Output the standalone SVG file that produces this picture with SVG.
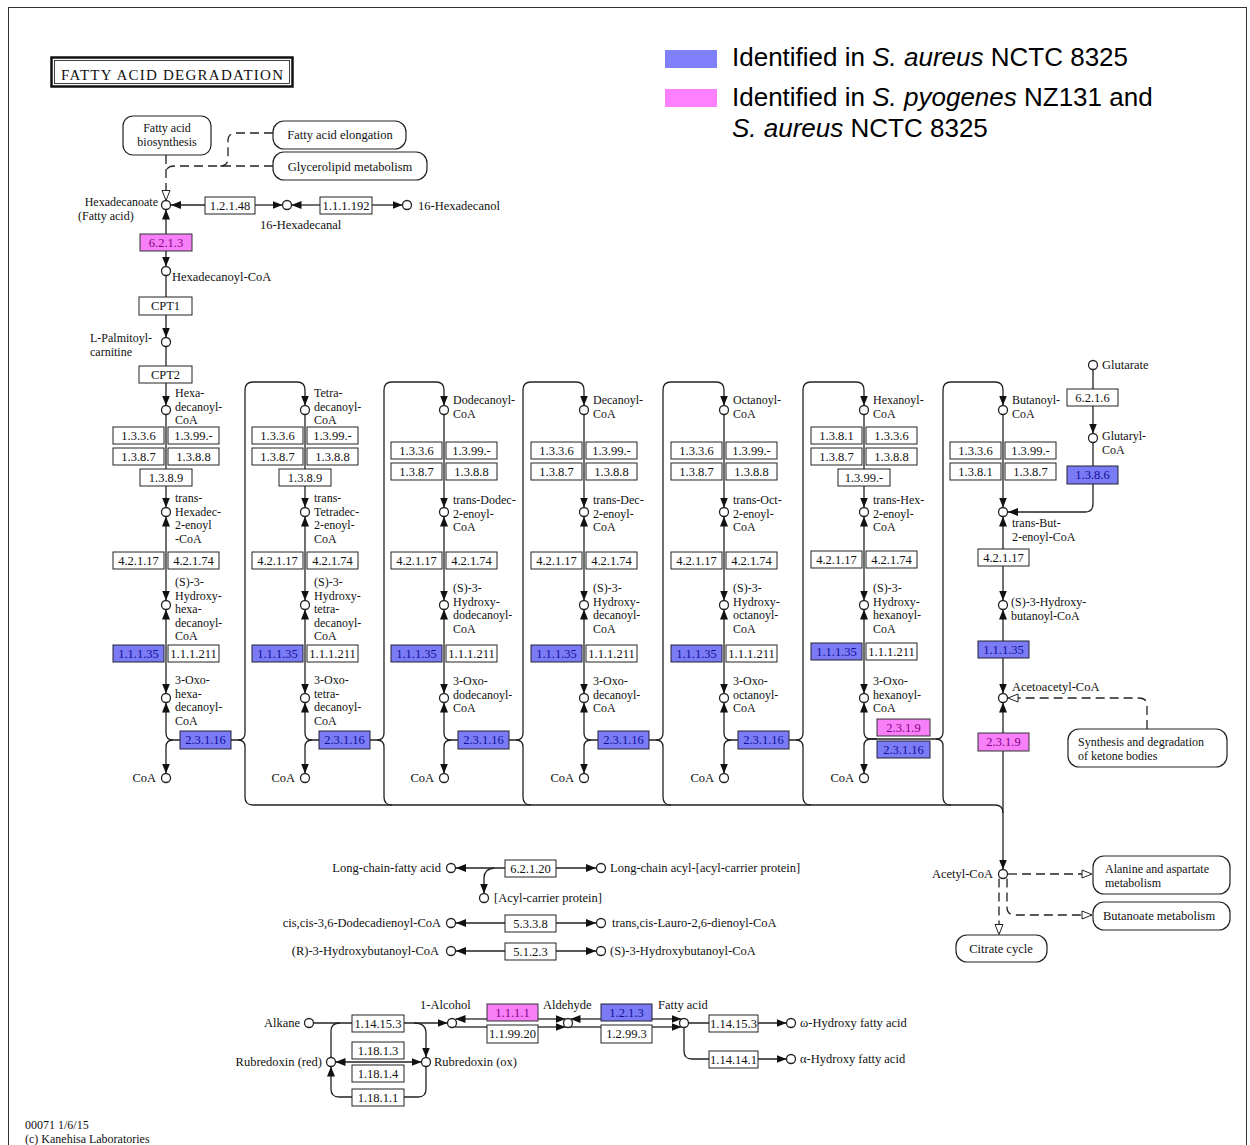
<svg xmlns="http://www.w3.org/2000/svg" width="1250" height="1145" viewBox="0 0 1250 1145">
<defs>
<style>
.ln{fill:none;stroke:#222;stroke-width:1.3}
.ds{fill:none;stroke:#222;stroke-width:1.3;stroke-dasharray:9 5}
.cp{fill:#fff;stroke:#222;stroke-width:1.3}
.ez{fill:#fff;stroke:#222;stroke-width:1}
.eb{fill:#7b7bf5;stroke:#223;stroke-width:1}
.ep{fill:#f77ff7;stroke:#333;stroke-width:1}
.mp{fill:#fff;stroke:#222;stroke-width:1.2}
text{font-family:"Liberation Serif","Times New Roman",serif;font-size:12.5px;fill:#111}
.s{font-size:12px}
.et{font-size:12.5px;text-anchor:middle}
.tb{fill:#10109a}
.tp{fill:#8a008a}
.r{text-anchor:end}
.c{text-anchor:middle}
.ttl{font-size:15px}
.ft{font-size:12px}
.lg{font-family:"Liberation Sans",Arial,sans-serif;font-size:26px;fill:#000}
</style>
<marker id="a" viewBox="0 0 10 8" refX="10" refY="4" markerWidth="10" markerHeight="8" markerUnits="userSpaceOnUse" orient="auto-start-reverse"><path d="M0,0L10,4L0,8z" fill="#111"/></marker>
<marker id="h" viewBox="-1 -1 12 10" refX="10" refY="4" markerWidth="12" markerHeight="10" markerUnits="userSpaceOnUse" orient="auto"><path d="M0,0L10,4L0,8z" fill="#fff" stroke="#222" stroke-width="1" stroke-dasharray="none"/></marker>
</defs>
<rect x="0" y="0" width="1250" height="1145" fill="#fff"/>
<rect x="8.5" y="7.5" width="1238" height="1150" fill="none" stroke="#333" stroke-width="1"/>

<g id="title">
<rect x="51.5" y="57.5" width="241" height="29" fill="#fff" stroke="#111" stroke-width="2.5"/>
<rect x="54.5" y="60.5" width="235" height="23" fill="none" stroke="#111" stroke-width="0.8"/>
<text class="ttl" x="61" y="80" textLength="222" lengthAdjust="spacing">FATTY ACID DEGRADATION</text>
</g>

<g id="legend">
<rect x="665" y="50" width="52" height="18" fill="#8080fb"/>
<rect x="665" y="89" width="52" height="18" fill="#ff80ff"/>
<text class="lg" x="732" y="66">Identified in <tspan font-style="italic">S. aureus</tspan> NCTC 8325</text>
<text class="lg" x="732" y="106">Identified in <tspan font-style="italic">S. pyogenes</tspan> NZ131 and</text>
<text class="lg" x="732" y="137"><tspan font-style="italic">S. aureus</tspan> NCTC 8325</text>
</g>

<g id="connectors">
<path class="ds" d="M166,155V200.5" marker-end="url(#h)"/>
<path class="ds" d="M273,166H174Q166,166 166,174"/>
<path class="ds" d="M273,133H236Q228,133 228,141V158Q228,166 220,166"/>
<path class="ln" d="M205,205H171" marker-end="url(#a)"/>
<path class="ln" d="M255,205H282.5" marker-end="url(#a)"/>
<path class="ln" d="M320,205H291.5" marker-end="url(#a)"/>
<path class="ln" d="M372,205H402.5" marker-end="url(#a)"/>
<path class="ln" d="M166,209.5V266.5" marker-start="url(#a)" marker-end="url(#a)"/>
<path class="ln" d="M166,275.5V337.5" marker-end="url(#a)"/>
<path class="ln" d="M166,346.5V405.5" marker-end="url(#a)"/>

<path class="ln" d="M166,414.5V507.5" marker-end="url(#a)"/>
<path class="ln" d="M166,516.5V600.5" marker-start="url(#a)" marker-end="url(#a)"/>
<path class="ln" d="M166,609.5V693.5" marker-start="url(#a)" marker-end="url(#a)"/>
<path class="ln" d="M180,740H173Q166,740 166,733V702.5" marker-end="url(#a)"/>
<path class="ln" d="M173,740Q166,740 166,747V773.5" marker-end="url(#a)"/>
<path class="ln" d="M231,740H238Q245,740 245,733V390Q245,382 253,382H297Q305,382 305,390V405.5" marker-end="url(#a)"/>
<path class="ln" d="M238,740Q245,740 245,747V797Q245,805 253,805"/>

<path class="ln" d="M305,414.5V507.5" marker-end="url(#a)"/>
<path class="ln" d="M305,516.5V600.5" marker-start="url(#a)" marker-end="url(#a)"/>
<path class="ln" d="M305,609.5V693.5" marker-start="url(#a)" marker-end="url(#a)"/>
<path class="ln" d="M319,740H312Q305,740 305,733V702.5" marker-end="url(#a)"/>
<path class="ln" d="M312,740Q305,740 305,747V773.5" marker-end="url(#a)"/>
<path class="ln" d="M370,740H377Q384,740 384,733V390Q384,382 392,382H436Q444,382 444,390V405.5" marker-end="url(#a)"/>
<path class="ln" d="M377,740Q384,740 384,747V797Q384,805 392,805"/>

<path class="ln" d="M444,414.5V507.5" marker-end="url(#a)"/>
<path class="ln" d="M444,516.5V600.5" marker-start="url(#a)" marker-end="url(#a)"/>
<path class="ln" d="M444,609.5V693.5" marker-start="url(#a)" marker-end="url(#a)"/>
<path class="ln" d="M458,740H451Q444,740 444,733V702.5" marker-end="url(#a)"/>
<path class="ln" d="M451,740Q444,740 444,747V773.5" marker-end="url(#a)"/>
<path class="ln" d="M509,740H516Q523,740 523,733V390Q523,382 531,382H576Q584,382 584,390V405.5" marker-end="url(#a)"/>
<path class="ln" d="M516,740Q523,740 523,747V797Q523,805 531,805"/>

<path class="ln" d="M584,414.5V507.5" marker-end="url(#a)"/>
<path class="ln" d="M584,516.5V600.5" marker-start="url(#a)" marker-end="url(#a)"/>
<path class="ln" d="M584,609.5V693.5" marker-start="url(#a)" marker-end="url(#a)"/>
<path class="ln" d="M598,740H591Q584,740 584,733V702.5" marker-end="url(#a)"/>
<path class="ln" d="M591,740Q584,740 584,747V773.5" marker-end="url(#a)"/>
<path class="ln" d="M649,740H656Q663,740 663,733V390Q663,382 671,382H716Q724,382 724,390V405.5" marker-end="url(#a)"/>
<path class="ln" d="M656,740Q663,740 663,747V797Q663,805 671,805"/>

<path class="ln" d="M724,414.5V507.5" marker-end="url(#a)"/>
<path class="ln" d="M724,516.5V600.5" marker-start="url(#a)" marker-end="url(#a)"/>
<path class="ln" d="M724,609.5V693.5" marker-start="url(#a)" marker-end="url(#a)"/>
<path class="ln" d="M738,740H731Q724,740 724,733V702.5" marker-end="url(#a)"/>
<path class="ln" d="M731,740Q724,740 724,747V773.5" marker-end="url(#a)"/>
<path class="ln" d="M789,740H796Q803,740 803,733V390Q803,382 811,382H856Q864,382 864,390V405.5" marker-end="url(#a)"/>
<path class="ln" d="M796,740Q803,740 803,747V797Q803,805 811,805"/>

<path class="ln" d="M864,414.5V507.5" marker-end="url(#a)"/>
<path class="ln" d="M864,516.5V600.5" marker-start="url(#a)" marker-end="url(#a)"/>
<path class="ln" d="M864,609.5V693.5" marker-start="url(#a)" marker-end="url(#a)"/>
<path class="ln" d="M877,739H871Q864,739 864,732V702.5" marker-end="url(#a)"/>
<path class="ln" d="M871,739Q864,739 864,746V773.5" marker-end="url(#a)"/>
<path class="ln" d="M871,739H936"/>
<path class="ln" d="M936,739Q943,739 943,732V390Q943,382 951,382H995Q1003,382 1003,390V405.5" marker-end="url(#a)"/>
<path class="ln" d="M936,739Q943,739 943,746V797Q943,805 951,805"/>

<path class="ln" d="M253,805H995Q1003,805 1003,813"/>

<path class="ln" d="M1003,414.5V507.5" marker-end="url(#a)"/>
<path class="ln" d="M1093,369.5V433.5" marker-end="url(#a)"/>
<path class="ln" d="M1093,442.5V504Q1093,512 1085,512H1008" marker-end="url(#a)"/>
<path class="ln" d="M1003,516.5V600.5" marker-start="url(#a)" marker-end="url(#a)"/>
<path class="ln" d="M1003,609.5V693.5" marker-start="url(#a)" marker-end="url(#a)"/>
<path class="ln" d="M1003,702.5V869.5" marker-start="url(#a)" marker-end="url(#a)"/>
<path class="ds" d="M1147,729V706Q1147,698 1139,698H1008" marker-end="url(#h)"/>
<path class="ds" d="M1008,874H1092" marker-end="url(#h)"/>
<path class="ds" d="M1007,878.5V907Q1007,915 1015,915H1092" marker-end="url(#h)"/>
<path class="ds" d="M999,878.5V934.5" marker-end="url(#h)"/>

<path class="ln" d="M505,868H456" marker-end="url(#a)"/>
<path class="ln" d="M556,868H596" marker-end="url(#a)"/>
<path class="ln" d="M494,868Q484,869 484,878V893.5" marker-end="url(#a)"/>
<path class="ln" d="M505,923H456" marker-end="url(#a)"/>
<path class="ln" d="M556,923H596" marker-end="url(#a)"/>
<path class="ln" d="M505,951H456" marker-end="url(#a)"/>
<path class="ln" d="M556,951H596" marker-end="url(#a)"/>

<path class="ln" d="M313.5,1023H447.5" marker-end="url(#a)"/>
<path class="ln" d="M340,1023Q331,1023 331,1031V1057.5"/>
<path class="ln" d="M414,1023Q426,1023 426,1033V1057.5" marker-end="url(#a)"/>
<path class="ln" d="M335.5,1062H421.5" marker-start="url(#a)" marker-end="url(#a)"/>
<path class="ln" d="M426,1066.5V1089Q426,1097 418,1097H339Q331,1097 331,1089V1066.5" marker-end="url(#a)"/>
<path class="ln" d="M487,1019H455.5" marker-end="url(#a)"/>
<path class="ln" d="M538,1019H565.5" marker-end="url(#a)"/>
<path class="ln" d="M455,1027H487"/>
<path class="ln" d="M538,1027H565.5" marker-end="url(#a)"/>
<path class="ln" d="M601,1019H570.5" marker-end="url(#a)"/>
<path class="ln" d="M652,1019H681.5" marker-end="url(#a)"/>
<path class="ln" d="M570,1027H601"/>
<path class="ln" d="M652,1027H681.5" marker-end="url(#a)"/>
<path class="ln" d="M688.5,1023H786.5" marker-end="url(#a)"/>
<path class="ln" d="M684,1027.5V1051Q684,1059 692,1059H786.5" marker-end="url(#a)"/>
</g>

<g id="map-fa-biosynthesis"><rect class="mp" x="123" y="116" width="88" height="39" rx="10"/><text class="c s"><tspan x="167" y="132">Fatty acid</tspan><tspan x="167" y="145.5">biosynthesis</tspan></text></g>
<g id="map-fa-elongation"><rect class="mp" x="273" y="121" width="133" height="28" rx="11"/><text class="c" x="340" y="139">Fatty acid elongation</text></g>
<g id="map-glycerolipid"><rect class="mp" x="273" y="152" width="154" height="28" rx="11"/><text class="c" x="350" y="171">Glycerolipid metabolism</text></g>
<g id="map-ketone"><rect class="mp" x="1068" y="729" width="159" height="38" rx="11"/><text class="s"><tspan x="1078" y="746">Synthesis and degradation</tspan><tspan x="1078" y="759.5">of ketone bodies</tspan></text></g>
<g id="map-alanine"><rect class="mp" x="1093" y="856" width="137" height="38" rx="11"/><text class="s"><tspan x="1105" y="873">Alanine and aspartate</tspan><tspan x="1105" y="886.5">metabolism</tspan></text></g>
<g id="map-butanoate"><rect class="mp" x="1093" y="902" width="137" height="28" rx="11"/><text x="1103" y="920">Butanoate metabolism</text></g>
<g id="map-citrate"><rect class="mp" x="956" y="935" width="91" height="27" rx="11"/><text class="c" x="1001" y="953">Citrate cycle</text></g>

<g id="cpd-hexadecanoate"><circle class="cp" cx="166" cy="205" r="4.5"/><text class="s r" x="158" y="206">Hexadecanoate</text><text class="s" x="78" y="219.5">(Fatty acid)</text></g>
<g id="cpd-16-hexadecanal"><circle class="cp" cx="287" cy="205" r="4.5"/><text x="260" y="229">16-Hexadecanal</text></g>
<g id="cpd-16-hexadecanol"><circle class="cp" cx="407" cy="205" r="4.5"/><text x="418" y="210">16-Hexadecanol</text></g>
<g id="cpd-hexadecanoyl-coa"><circle class="cp" cx="166" cy="271" r="4.5"/><text x="172" y="281">Hexadecanoyl-CoA</text></g>
<g id="cpd-l-palmitoylcarnitine"><circle class="cp" cx="166" cy="342" r="4.5"/><text class="s"><tspan x="90" y="342">L-Palmitoyl-</tspan><tspan x="90" y="355.5">carnitine</tspan></text></g>
<g id="enz-1.2.1.48"><rect class="ez" x="205" y="197" width="50" height="17"/><text class="et" x="230" y="210">1.2.1.48</text></g>
<g id="enz-1.1.1.192"><rect class="ez" x="320" y="197" width="52" height="17"/><text class="et" x="346" y="210">1.1.1.192</text></g>
<g id="enz-6.2.1.3"><rect class="ep" x="140" y="234" width="52" height="17"/><text class="et tp" x="166" y="247">6.2.1.3</text></g>
<g id="enz-cpt1"><rect class="ez" x="139" y="297" width="53" height="18"/><text class="et" x="165.5" y="310">CPT1</text></g>
<g id="enz-cpt2"><rect class="ez" x="139" y="366" width="53" height="17"/><text class="et" x="165.5" y="379">CPT2</text></g>

<g id="c1-acyl"><circle class="cp" cx="166" cy="410" r="4.5"/><text class="s"><tspan x="175" y="397">Hexa-</tspan><tspan x="175" y="410.5">decanoyl-</tspan><tspan x="175" y="424">CoA</tspan></text></g>
<g id="c1-enoyl"><circle class="cp" cx="166" cy="512" r="4.5"/><text class="s"><tspan x="175" y="502">trans-</tspan><tspan x="175" y="515.5">Hexadec-</tspan><tspan x="175" y="529">2-enoyl</tspan><tspan x="175" y="542.5">-CoA</tspan></text></g>
<g id="c1-hydroxy"><circle class="cp" cx="166" cy="605" r="4.5"/><text class="s"><tspan x="175" y="586">(S)-3-</tspan><tspan x="175" y="599.5">Hydroxy-</tspan><tspan x="175" y="613">hexa-</tspan><tspan x="175" y="626.5">decanoyl-</tspan><tspan x="175" y="640">CoA</tspan></text></g>
<g id="c1-oxo"><circle class="cp" cx="166" cy="698" r="4.5"/><text class="s"><tspan x="175" y="684">3-Oxo-</tspan><tspan x="175" y="697.5">hexa-</tspan><tspan x="175" y="711">decanoyl-</tspan><tspan x="175" y="724.5">CoA</tspan></text></g>
<g id="c1-coa"><circle class="cp" cx="166" cy="778" r="4.5"/><text class="r" x="156" y="782">CoA</text></g>
<g id="c1-e1"><rect class="ez" x="113" y="427" width="51" height="17"/><text class="et" x="138.5" y="440">1.3.3.6</text></g>
<g id="c1-e2"><rect class="ez" x="168" y="427" width="51" height="17"/><text class="et" x="193.5" y="440">1.3.99.-</text></g>
<g id="c1-e3"><rect class="ez" x="113" y="448" width="51" height="17"/><text class="et" x="138.5" y="461">1.3.8.7</text></g>
<g id="c1-e4"><rect class="ez" x="168" y="448" width="51" height="17"/><text class="et" x="193.5" y="461">1.3.8.8</text></g>
<g id="c1-e5"><rect class="ez" x="140" y="469" width="52" height="17"/><text class="et" x="166" y="482">1.3.8.9</text></g>
<g id="c1-e6"><rect class="ez" x="113" y="552" width="51" height="17"/><text class="et" x="138.5" y="565">4.2.1.17</text></g>
<g id="c1-e7"><rect class="ez" x="168" y="552" width="51" height="17"/><text class="et" x="193.5" y="565">4.2.1.74</text></g>
<g id="c1-e8"><rect class="eb" x="113" y="645" width="51" height="17"/><text class="et tb" x="138.5" y="658">1.1.1.35</text></g>
<g id="c1-e9"><rect class="ez" x="168" y="645" width="51" height="17"/><text class="et" x="193.5" y="658">1.1.1.211</text></g>
<g id="c1-e10"><rect class="eb" x="180" y="731" width="51" height="18"/><text class="et tb" x="205.5" y="744">2.3.1.16</text></g>

<g id="c2-acyl"><circle class="cp" cx="305" cy="410" r="4.5"/><text class="s"><tspan x="314" y="397">Tetra-</tspan><tspan x="314" y="410.5">decanoyl-</tspan><tspan x="314" y="424">CoA</tspan></text></g>
<g id="c2-enoyl"><circle class="cp" cx="305" cy="512" r="4.5"/><text class="s"><tspan x="314" y="502">trans-</tspan><tspan x="314" y="515.5">Tetradec-</tspan><tspan x="314" y="529">2-enoyl-</tspan><tspan x="314" y="542.5">CoA</tspan></text></g>
<g id="c2-hydroxy"><circle class="cp" cx="305" cy="605" r="4.5"/><text class="s"><tspan x="314" y="586">(S)-3-</tspan><tspan x="314" y="599.5">Hydroxy-</tspan><tspan x="314" y="613">tetra-</tspan><tspan x="314" y="626.5">decanoyl-</tspan><tspan x="314" y="640">CoA</tspan></text></g>
<g id="c2-oxo"><circle class="cp" cx="305" cy="698" r="4.5"/><text class="s"><tspan x="314" y="684">3-Oxo-</tspan><tspan x="314" y="697.5">tetra-</tspan><tspan x="314" y="711">decanoyl-</tspan><tspan x="314" y="724.5">CoA</tspan></text></g>
<g id="c2-coa"><circle class="cp" cx="305" cy="778" r="4.5"/><text class="r" x="295" y="782">CoA</text></g>
<g id="c2-e1"><rect class="ez" x="252" y="427" width="51" height="17"/><text class="et" x="277.5" y="440">1.3.3.6</text></g>
<g id="c2-e2"><rect class="ez" x="307" y="427" width="51" height="17"/><text class="et" x="332.5" y="440">1.3.99.-</text></g>
<g id="c2-e3"><rect class="ez" x="252" y="448" width="51" height="17"/><text class="et" x="277.5" y="461">1.3.8.7</text></g>
<g id="c2-e4"><rect class="ez" x="307" y="448" width="51" height="17"/><text class="et" x="332.5" y="461">1.3.8.8</text></g>
<g id="c2-e5"><rect class="ez" x="279" y="469" width="52" height="17"/><text class="et" x="305" y="482">1.3.8.9</text></g>
<g id="c2-e6"><rect class="ez" x="252" y="552" width="51" height="17"/><text class="et" x="277.5" y="565">4.2.1.17</text></g>
<g id="c2-e7"><rect class="ez" x="307" y="552" width="51" height="17"/><text class="et" x="332.5" y="565">4.2.1.74</text></g>
<g id="c2-e8"><rect class="eb" x="252" y="645" width="51" height="17"/><text class="et tb" x="277.5" y="658">1.1.1.35</text></g>
<g id="c2-e9"><rect class="ez" x="307" y="645" width="51" height="17"/><text class="et" x="332.5" y="658">1.1.1.211</text></g>
<g id="c2-e10"><rect class="eb" x="319" y="731" width="51" height="18"/><text class="et tb" x="344.5" y="744">2.3.1.16</text></g>

<g id="c3-acyl"><circle class="cp" cx="444" cy="410" r="4.5"/><text class="s"><tspan x="453" y="404">Dodecanoyl-</tspan><tspan x="453" y="417.5">CoA</tspan></text></g>
<g id="c3-enoyl"><circle class="cp" cx="444" cy="512" r="4.5"/><text class="s"><tspan x="453" y="504">trans-Dodec-</tspan><tspan x="453" y="517.5">2-enoyl-</tspan><tspan x="453" y="531">CoA</tspan></text></g>
<g id="c3-hydroxy"><circle class="cp" cx="444" cy="605" r="4.5"/><text class="s"><tspan x="453" y="592">(S)-3-</tspan><tspan x="453" y="605.5">Hydroxy-</tspan><tspan x="453" y="619">dodecanoyl-</tspan><tspan x="453" y="632.5">CoA</tspan></text></g>
<g id="c3-oxo"><circle class="cp" cx="444" cy="698" r="4.5"/><text class="s"><tspan x="453" y="685">3-Oxo-</tspan><tspan x="453" y="698.5">dodecanoyl-</tspan><tspan x="453" y="712">CoA</tspan></text></g>
<g id="c3-coa"><circle class="cp" cx="444" cy="778" r="4.5"/><text class="r" x="434" y="782">CoA</text></g>
<g id="c3-e1"><rect class="ez" x="391" y="442" width="51" height="17"/><text class="et" x="416.5" y="455">1.3.3.6</text></g>
<g id="c3-e2"><rect class="ez" x="446" y="442" width="51" height="17"/><text class="et" x="471.5" y="455">1.3.99.-</text></g>
<g id="c3-e3"><rect class="ez" x="391" y="463" width="51" height="17"/><text class="et" x="416.5" y="476">1.3.8.7</text></g>
<g id="c3-e4"><rect class="ez" x="446" y="463" width="51" height="17"/><text class="et" x="471.5" y="476">1.3.8.8</text></g>
<g id="c3-e6"><rect class="ez" x="391" y="552" width="51" height="17"/><text class="et" x="416.5" y="565">4.2.1.17</text></g>
<g id="c3-e7"><rect class="ez" x="446" y="552" width="51" height="17"/><text class="et" x="471.5" y="565">4.2.1.74</text></g>
<g id="c3-e8"><rect class="eb" x="391" y="645" width="51" height="17"/><text class="et tb" x="416.5" y="658">1.1.1.35</text></g>
<g id="c3-e9"><rect class="ez" x="446" y="645" width="51" height="17"/><text class="et" x="471.5" y="658">1.1.1.211</text></g>
<g id="c3-e10"><rect class="eb" x="458" y="731" width="51" height="18"/><text class="et tb" x="483.5" y="744">2.3.1.16</text></g>

<g id="c4-acyl"><circle class="cp" cx="584" cy="410" r="4.5"/><text class="s"><tspan x="593" y="404">Decanoyl-</tspan><tspan x="593" y="417.5">CoA</tspan></text></g>
<g id="c4-enoyl"><circle class="cp" cx="584" cy="512" r="4.5"/><text class="s"><tspan x="593" y="504">trans-Dec-</tspan><tspan x="593" y="517.5">2-enoyl-</tspan><tspan x="593" y="531">CoA</tspan></text></g>
<g id="c4-hydroxy"><circle class="cp" cx="584" cy="605" r="4.5"/><text class="s"><tspan x="593" y="592">(S)-3-</tspan><tspan x="593" y="605.5">Hydroxy-</tspan><tspan x="593" y="619">decanoyl-</tspan><tspan x="593" y="632.5">CoA</tspan></text></g>
<g id="c4-oxo"><circle class="cp" cx="584" cy="698" r="4.5"/><text class="s"><tspan x="593" y="685">3-Oxo-</tspan><tspan x="593" y="698.5">decanoyl-</tspan><tspan x="593" y="712">CoA</tspan></text></g>
<g id="c4-coa"><circle class="cp" cx="584" cy="778" r="4.5"/><text class="r" x="574" y="782">CoA</text></g>
<g id="c4-e1"><rect class="ez" x="531" y="442" width="51" height="17"/><text class="et" x="556.5" y="455">1.3.3.6</text></g>
<g id="c4-e2"><rect class="ez" x="586" y="442" width="51" height="17"/><text class="et" x="611.5" y="455">1.3.99.-</text></g>
<g id="c4-e3"><rect class="ez" x="531" y="463" width="51" height="17"/><text class="et" x="556.5" y="476">1.3.8.7</text></g>
<g id="c4-e4"><rect class="ez" x="586" y="463" width="51" height="17"/><text class="et" x="611.5" y="476">1.3.8.8</text></g>
<g id="c4-e6"><rect class="ez" x="531" y="552" width="51" height="17"/><text class="et" x="556.5" y="565">4.2.1.17</text></g>
<g id="c4-e7"><rect class="ez" x="586" y="552" width="51" height="17"/><text class="et" x="611.5" y="565">4.2.1.74</text></g>
<g id="c4-e8"><rect class="eb" x="531" y="645" width="51" height="17"/><text class="et tb" x="556.5" y="658">1.1.1.35</text></g>
<g id="c4-e9"><rect class="ez" x="586" y="645" width="51" height="17"/><text class="et" x="611.5" y="658">1.1.1.211</text></g>
<g id="c4-e10"><rect class="eb" x="598" y="731" width="51" height="18"/><text class="et tb" x="623.5" y="744">2.3.1.16</text></g>

<g id="c5-acyl"><circle class="cp" cx="724" cy="410" r="4.5"/><text class="s"><tspan x="733" y="404">Octanoyl-</tspan><tspan x="733" y="417.5">CoA</tspan></text></g>
<g id="c5-enoyl"><circle class="cp" cx="724" cy="512" r="4.5"/><text class="s"><tspan x="733" y="504">trans-Oct-</tspan><tspan x="733" y="517.5">2-enoyl-</tspan><tspan x="733" y="531">CoA</tspan></text></g>
<g id="c5-hydroxy"><circle class="cp" cx="724" cy="605" r="4.5"/><text class="s"><tspan x="733" y="592">(S)-3-</tspan><tspan x="733" y="605.5">Hydroxy-</tspan><tspan x="733" y="619">octanoyl-</tspan><tspan x="733" y="632.5">CoA</tspan></text></g>
<g id="c5-oxo"><circle class="cp" cx="724" cy="698" r="4.5"/><text class="s"><tspan x="733" y="685">3-Oxo-</tspan><tspan x="733" y="698.5">octanoyl-</tspan><tspan x="733" y="712">CoA</tspan></text></g>
<g id="c5-coa"><circle class="cp" cx="724" cy="778" r="4.5"/><text class="r" x="714" y="782">CoA</text></g>
<g id="c5-e1"><rect class="ez" x="671" y="442" width="51" height="17"/><text class="et" x="696.5" y="455">1.3.3.6</text></g>
<g id="c5-e2"><rect class="ez" x="726" y="442" width="51" height="17"/><text class="et" x="751.5" y="455">1.3.99.-</text></g>
<g id="c5-e3"><rect class="ez" x="671" y="463" width="51" height="17"/><text class="et" x="696.5" y="476">1.3.8.7</text></g>
<g id="c5-e4"><rect class="ez" x="726" y="463" width="51" height="17"/><text class="et" x="751.5" y="476">1.3.8.8</text></g>
<g id="c5-e6"><rect class="ez" x="671" y="552" width="51" height="17"/><text class="et" x="696.5" y="565">4.2.1.17</text></g>
<g id="c5-e7"><rect class="ez" x="726" y="552" width="51" height="17"/><text class="et" x="751.5" y="565">4.2.1.74</text></g>
<g id="c5-e8"><rect class="eb" x="671" y="645" width="51" height="17"/><text class="et tb" x="696.5" y="658">1.1.1.35</text></g>
<g id="c5-e9"><rect class="ez" x="726" y="645" width="51" height="17"/><text class="et" x="751.5" y="658">1.1.1.211</text></g>
<g id="c5-e10"><rect class="eb" x="738" y="731" width="51" height="18"/><text class="et tb" x="763.5" y="744">2.3.1.16</text></g>

<g id="c6-acyl"><circle class="cp" cx="864" cy="410" r="4.5"/><text class="s"><tspan x="873" y="404">Hexanoyl-</tspan><tspan x="873" y="417.5">CoA</tspan></text></g>
<g id="c6-enoyl"><circle class="cp" cx="864" cy="512" r="4.5"/><text class="s"><tspan x="873" y="504">trans-Hex-</tspan><tspan x="873" y="517.5">2-enoyl-</tspan><tspan x="873" y="531">CoA</tspan></text></g>
<g id="c6-hydroxy"><circle class="cp" cx="864" cy="605" r="4.5"/><text class="s"><tspan x="873" y="592">(S)-3-</tspan><tspan x="873" y="605.5">Hydroxy-</tspan><tspan x="873" y="619">hexanoyl-</tspan><tspan x="873" y="632.5">CoA</tspan></text></g>
<g id="c6-oxo"><circle class="cp" cx="864" cy="698" r="4.5"/><text class="s"><tspan x="873" y="685">3-Oxo-</tspan><tspan x="873" y="698.5">hexanoyl-</tspan><tspan x="873" y="712">CoA</tspan></text></g>
<g id="c6-coa"><circle class="cp" cx="864" cy="778" r="4.5"/><text class="r" x="854" y="782">CoA</text></g>
<g id="c6-e1"><rect class="ez" x="811" y="427" width="51" height="17"/><text class="et" x="836.5" y="440">1.3.8.1</text></g>
<g id="c6-e2"><rect class="ez" x="866" y="427" width="51" height="17"/><text class="et" x="891.5" y="440">1.3.3.6</text></g>
<g id="c6-e3"><rect class="ez" x="811" y="448" width="51" height="17"/><text class="et" x="836.5" y="461">1.3.8.7</text></g>
<g id="c6-e4"><rect class="ez" x="866" y="448" width="51" height="17"/><text class="et" x="891.5" y="461">1.3.8.8</text></g>
<g id="c6-e5"><rect class="ez" x="838" y="469" width="52" height="17"/><text class="et" x="864" y="482">1.3.99.-</text></g>
<g id="c6-e6"><rect class="ez" x="811" y="551" width="51" height="17"/><text class="et" x="836.5" y="564">4.2.1.17</text></g>
<g id="c6-e7"><rect class="ez" x="866" y="551" width="51" height="17"/><text class="et" x="891.5" y="564">4.2.1.74</text></g>
<g id="c6-e8"><rect class="eb" x="811" y="643" width="51" height="17"/><text class="et tb" x="836.5" y="656">1.1.1.35</text></g>
<g id="c6-e9"><rect class="ez" x="866" y="643" width="51" height="17"/><text class="et" x="891.5" y="656">1.1.1.211</text></g>
<g id="c6-e10"><rect class="ep" x="877" y="719" width="53" height="17"/><text class="et tp" x="903.5" y="732">2.3.1.9</text></g>
<g id="c6-e11"><rect class="eb" x="877" y="741" width="53" height="17"/><text class="et tb" x="903.5" y="754">2.3.1.16</text></g>

<g id="c7-butanoyl"><circle class="cp" cx="1003" cy="410" r="4.5"/><text class="s"><tspan x="1012" y="404">Butanoyl-</tspan><tspan x="1012" y="417.5">CoA</tspan></text></g>
<g id="c7-glutarate"><circle class="cp" cx="1093" cy="365" r="4.5"/><text x="1102" y="369">Glutarate</text></g>
<g id="c7-glutaryl"><circle class="cp" cx="1093" cy="438" r="4.5"/><text class="s"><tspan x="1102" y="440">Glutaryl-</tspan><tspan x="1102" y="453.5">CoA</tspan></text></g>
<g id="c7-enoyl"><circle class="cp" cx="1003" cy="512" r="4.5"/><text class="s"><tspan x="1012" y="527">trans-But-</tspan><tspan x="1012" y="540.5">2-enoyl-CoA</tspan></text></g>
<g id="c7-hydroxy"><circle class="cp" cx="1003" cy="605" r="4.5"/><text class="s"><tspan x="1011" y="606">(S)-3-Hydroxy-</tspan><tspan x="1011" y="619.5">butanoyl-CoA</tspan></text></g>
<g id="c7-acetoacetyl"><circle class="cp" cx="1003" cy="698" r="4.5"/><text x="1012" y="691">Acetoacetyl-CoA</text></g>
<g id="c7-acetyl"><circle class="cp" cx="1003" cy="874" r="4.5"/><text class="r" x="993" y="878">Acetyl-CoA</text></g>
<g id="c7-e1"><rect class="ez" x="950" y="442" width="51" height="17"/><text class="et" x="975.5" y="455">1.3.3.6</text></g>
<g id="c7-e2"><rect class="ez" x="1005" y="442" width="51" height="17"/><text class="et" x="1030.5" y="455">1.3.99.-</text></g>
<g id="c7-e3"><rect class="ez" x="950" y="463" width="51" height="17"/><text class="et" x="975.5" y="476">1.3.8.1</text></g>
<g id="c7-e4"><rect class="ez" x="1005" y="463" width="51" height="17"/><text class="et" x="1030.5" y="476">1.3.8.7</text></g>
<g id="c7-e5"><rect class="ez" x="1067" y="389" width="51" height="17"/><text class="et" x="1092.5" y="402">6.2.1.6</text></g>
<g id="c7-e6"><rect class="eb" x="1067" y="466" width="51" height="18"/><text class="et tb" x="1092.5" y="479">1.3.8.6</text></g>
<g id="c7-e7"><rect class="ez" x="978" y="549" width="51" height="17"/><text class="et" x="1003.5" y="562">4.2.1.17</text></g>
<g id="c7-e8"><rect class="eb" x="978" y="641" width="51" height="17"/><text class="et tb" x="1003.5" y="654">1.1.1.35</text></g>
<g id="c7-e9"><rect class="ep" x="978" y="733" width="51" height="18"/><text class="et tp" x="1003.5" y="746">2.3.1.9</text></g>

<g id="cpd-long-chain-fa"><circle class="cp" cx="451" cy="868" r="4.5"/><text class="r" x="441" y="872">Long-chain-fatty acid</text></g>
<g id="cpd-long-chain-acyl-acp"><circle class="cp" cx="601" cy="868" r="4.5"/><text x="610" y="872">Long-chain acyl-[acyl-carrier protein]</text></g>
<g id="cpd-acp"><circle class="cp" cx="484" cy="898" r="4.5"/><text x="494" y="902">[Acyl-carrier protein]</text></g>
<g id="enz-6.2.1.20"><rect class="ez" x="505" y="860" width="51" height="17"/><text class="et" x="530.5" y="873">6.2.1.20</text></g>
<g id="cpd-cis-dodecadienoyl"><circle class="cp" cx="451" cy="923" r="4.5"/><text class="r" x="441" y="927">cis,cis-3,6-Dodecadienoyl-CoA</text></g>
<g id="cpd-trans-lauro"><circle class="cp" cx="601" cy="923" r="4.5"/><text x="612" y="927">trans,cis-Lauro-2,6-dienoyl-CoA</text></g>
<g id="enz-5.3.3.8"><rect class="ez" x="505" y="915" width="51" height="17"/><text class="et" x="530.5" y="928">5.3.3.8</text></g>
<g id="cpd-r-hydroxybutanoyl"><circle class="cp" cx="451" cy="951" r="4.5"/><text class="r" x="439" y="955">(R)-3-Hydroxybutanoyl-CoA</text></g>
<g id="cpd-s-hydroxybutanoyl"><circle class="cp" cx="601" cy="951" r="4.5"/><text x="610" y="955">(S)-3-Hydroxybutanoyl-CoA</text></g>
<g id="enz-5.1.2.3"><rect class="ez" x="505" y="943" width="51" height="17"/><text class="et" x="530.5" y="956">5.1.2.3</text></g>

<g id="cpd-alkane"><circle class="cp" cx="309" cy="1023" r="4.5"/><text class="r" x="300" y="1027">Alkane</text></g>
<g id="cpd-rubredoxin-red"><circle class="cp" cx="331" cy="1062" r="4.5"/><text class="r" x="322" y="1066">Rubredoxin (red)</text></g>
<g id="cpd-rubredoxin-ox"><circle class="cp" cx="426" cy="1062" r="4.5"/><text x="434" y="1066">Rubredoxin (ox)</text></g>
<g id="cpd-1-alcohol"><circle class="cp" cx="452" cy="1023" r="4.5"/><text x="420" y="1009">1-Alcohol</text></g>
<g id="cpd-aldehyde"><circle class="cp" cx="568" cy="1023" r="4.5"/><text x="543" y="1009">Aldehyde</text></g>
<g id="cpd-fatty-acid"><circle class="cp" cx="684" cy="1023" r="4.5"/><text x="658" y="1009">Fatty acid</text></g>
<g id="cpd-omega-hydroxy"><circle class="cp" cx="791" cy="1023" r="4.5"/><text x="800" y="1027">ω-Hydroxy fatty acid</text></g>
<g id="cpd-alpha-hydroxy"><circle class="cp" cx="791" cy="1059" r="4.5"/><text x="800" y="1063">α-Hydroxy fatty acid</text></g>
<g id="enz-1.14.15.3a"><rect class="ez" x="352" y="1015" width="52" height="17"/><text class="et" x="378" y="1028">1.14.15.3</text></g>
<g id="enz-1.18.1.3"><rect class="ez" x="352" y="1042" width="52" height="17"/><text class="et" x="378" y="1055">1.18.1.3</text></g>
<g id="enz-1.18.1.4"><rect class="ez" x="352" y="1065" width="52" height="17"/><text class="et" x="378" y="1078">1.18.1.4</text></g>
<g id="enz-1.18.1.1"><rect class="ez" x="352" y="1089" width="52" height="17"/><text class="et" x="378" y="1102">1.18.1.1</text></g>
<g id="enz-1.1.1.1"><rect class="ep" x="487" y="1004" width="51" height="17"/><text class="et tp" x="512.5" y="1017">1.1.1.1</text></g>
<g id="enz-1.1.99.20"><rect class="ez" x="487" y="1025" width="51" height="18"/><text class="et" x="512.5" y="1038">1.1.99.20</text></g>
<g id="enz-1.2.1.3"><rect class="eb" x="601" y="1004" width="51" height="17"/><text class="et tb" x="626.5" y="1017">1.2.1.3</text></g>
<g id="enz-1.2.99.3"><rect class="ez" x="601" y="1025" width="51" height="18"/><text class="et" x="626.5" y="1038">1.2.99.3</text></g>
<g id="enz-1.14.15.3b"><rect class="ez" x="709" y="1015" width="49" height="17"/><text class="et" x="733.5" y="1028">1.14.15.3</text></g>
<g id="enz-1.14.14.1"><rect class="ez" x="709" y="1051" width="49" height="17"/><text class="et" x="733.5" y="1064">1.14.14.1</text></g>

<g id="footer"><text class="ft" x="25" y="1129">00071 1/6/15</text><text class="ft" x="25" y="1142.5">(c) Kanehisa Laboratories</text></g>
</svg>
